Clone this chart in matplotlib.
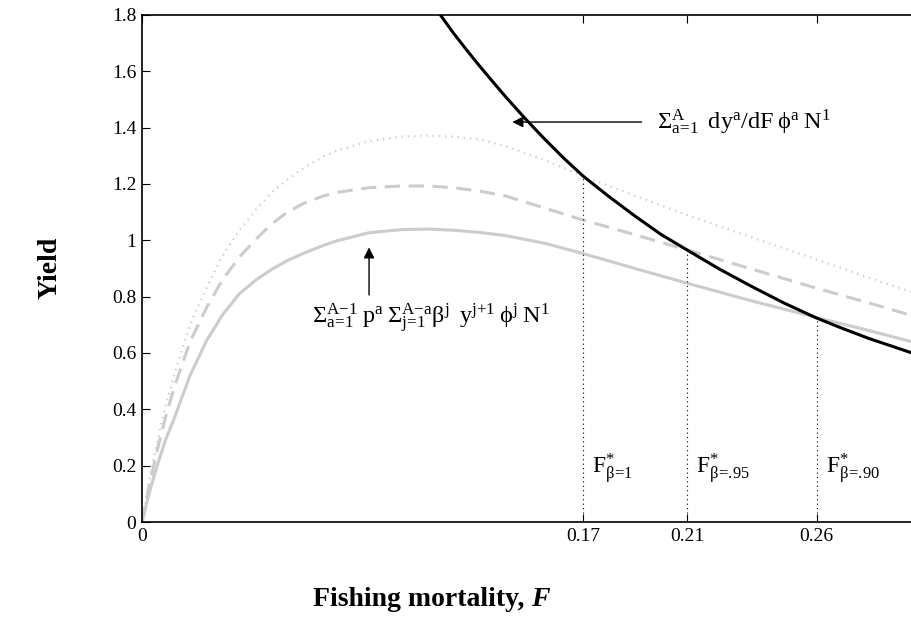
import matplotlib
matplotlib.use("Agg")
import matplotlib.pyplot as plt

# ---- data ----
F_grid = [0, 0.003, 0.006, 0.009, 0.0125, 0.0185, 0.025, 0.031, 0.0375, 0.044,
          0.05, 0.056, 0.0625, 0.07, 0.075, 0.0875, 0.1, 0.11, 0.12, 0.13,
          0.14, 0.155, 0.17, 0.19, 0.21, 0.235, 0.26, 0.28, 0.3]
yield_b100 = [0, 0.11, 0.205, 0.29, 0.37, 0.52, 0.646, 0.735, 0.81, 0.86,
              0.897, 0.928, 0.955, 0.982, 0.998, 1.027, 1.038, 1.04, 1.036, 1.028,
              1.017, 0.99, 0.953, 0.90, 0.848, 0.785, 0.726, 0.68, 0.632]
yield_b095 = [0, 0.14, 0.26, 0.37, 0.48, 0.64, 0.763, 0.86, 0.94, 1.005,
              1.058, 1.10, 1.132, 1.158, 1.17, 1.187, 1.193, 1.193, 1.187, 1.175,
              1.158, 1.115, 1.072, 1.02, 0.966, 0.898, 0.83, 0.778, 0.724]
yield_b090 = [0, 0.155, 0.29, 0.41, 0.525, 0.70, 0.835, 0.945, 1.035, 1.11,
              1.17, 1.215, 1.258, 1.298, 1.318, 1.352, 1.368, 1.372, 1.368, 1.358,
              1.335, 1.285, 1.228, 1.158, 1.09, 1.01, 0.932, 0.868, 0.806]
F_marg = [0.113, 0.115, 0.12, 0.125, 0.13, 0.135, 0.14, 0.1475, 0.155, 0.1625,
          0.17, 0.18, 0.19, 0.2, 0.21, 0.2225, 0.235, 0.2475, 0.26, 0.27,
          0.28, 0.29, 0.3]
marginal = [1.83, 1.80, 1.736, 1.677, 1.62, 1.565, 1.511, 1.434, 1.361, 1.292,
            1.228, 1.155, 1.086, 1.021, 0.966, 0.898, 0.836, 0.777, 0.724, 0.687,
            0.652, 0.621, 0.59]

F_star = [0.17, 0.21, 0.26]
F_star_y = [1.228, 0.966, 0.724]
F_star_labels = [r'$\mathrm{F}^{*}_{\mathrm{\beta\!=\!1}}$',
                 r'$\mathrm{F}^{*}_{\mathrm{\beta\!=\!.\!95}}$',
                 r'$\mathrm{F}^{*}_{\mathrm{\beta\!=\!.\!90}}$']
xtick_vals = [0, 0.17, 0.21, 0.26]
xtick_labels = ['0', '0.17', '0.21', '0.26']
ytick_vals = [0, 0.2, 0.4, 0.6, 0.8, 1.0, 1.2, 1.4, 1.6, 1.8]
ytick_labels = ['0', '0.2', '0.4', '0.6', '0.8', '1', '1.2', '1.4', '1.6', '1.8']

plt.rcParams['font.family'] = ['Liberation Serif', 'DejaVu Serif']
plt.rcParams['mathtext.fontset'] = 'custom'
plt.rcParams['mathtext.rm'] = 'Liberation Serif'
plt.rcParams['mathtext.it'] = 'Liberation Serif:italic'
plt.rcParams['mathtext.bf'] = 'Liberation Serif:bold'

fig = plt.figure(figsize=(9.12, 6.32), dpi=100)
ax = fig.add_axes([0.1557, 0.17405, 0.8536, 0.80222])

gray = '#cccccc'
ax.plot(F_grid, yield_b090, color=gray, lw=1.6, ls=(0, (0.6, 2.2)))
ax.plot(F_grid, yield_b095, color=gray, lw=2.2, ls=(0, (5, 2.8)))
ax.plot(F_grid, yield_b100, color=gray, lw=2.2, ls='-')
ax.plot(F_marg, marginal, color='black', lw=2.2, ls='-')

for xs, ys in zip(F_star, F_star_y):
    ax.plot([xs, xs], [0, ys], color='black', lw=0.8, ls=(0, (1, 3)))

for xs, lab in zip(F_star, F_star_labels):
    ax.text(xs + 0.0035, 0.19, lab, fontsize=17, ha='left', va='center')

ax.annotate('', xy=(0.1427, 1.42), xytext=(0.1925, 1.42),
            arrowprops=dict(arrowstyle='-|>', color='black', lw=1.0,
                            mutation_scale=16, shrinkA=0, shrinkB=0))
ax.text(0.1985, 1.42,
        r'$\Sigma^{\mathrm{A}}_{\mathrm{a\!=\!1}}\;\;\mathrm{dy^{a}/dF}\;\mathrm{\phi}^{\mathrm{a}}\;\mathrm{N^{1}}$',
        fontsize=17.5, ha='left', va='center')

ax.annotate('', xy=(0.0875, 0.975), xytext=(0.0875, 0.806),
            arrowprops=dict(arrowstyle='-|>', color='black', lw=1.0,
                            mutation_scale=16, shrinkA=0, shrinkB=0))
ax.text(0.0655, 0.724,
        r'$\Sigma^{\mathrm{A{-}1}}_{\mathrm{a\!=\!1}}\;\mathrm{p^{a}}\;\Sigma^{\mathrm{A{-}a}}_{\mathrm{j\!=\!1}}\mathrm{\beta}^{\mathrm{j}}\;\;\mathrm{y^{j{+}1}}\;\mathrm{\phi}^{\mathrm{j}}\;\mathrm{N^{1}}$',
        fontsize=17.5, ha='left', va='center')

ax.set_xlim(0, 0.3)
ax.set_ylim(0, 1.8)
ax.set_xticks(xtick_vals)
ax.set_xticklabels(xtick_labels)
ax.set_yticks(ytick_vals)
ax.set_yticklabels(ytick_labels)
ax.tick_params(direction='in', length=6, width=0.8, labelsize=14,
               top=True, right=True, pad=4)
for s in ax.spines.values():
    s.set_linewidth(1.2)

fig.text(531 / 912, 1 - 600 / 632, 'Fishing mortality, ',
         fontsize=20, fontweight='bold', ha='right', va='center')
fig.text(531 / 912, 1 - 600 / 632, 'F', fontsize=20, fontweight='bold',
         style='italic', ha='left', va='center')
fig.text(50 / 912, 1 - 268 / 632, 'Yield', fontsize=20, fontweight='bold',
         rotation=90, ha='center', va='center')

fig.savefig('out.png', dpi=100)
